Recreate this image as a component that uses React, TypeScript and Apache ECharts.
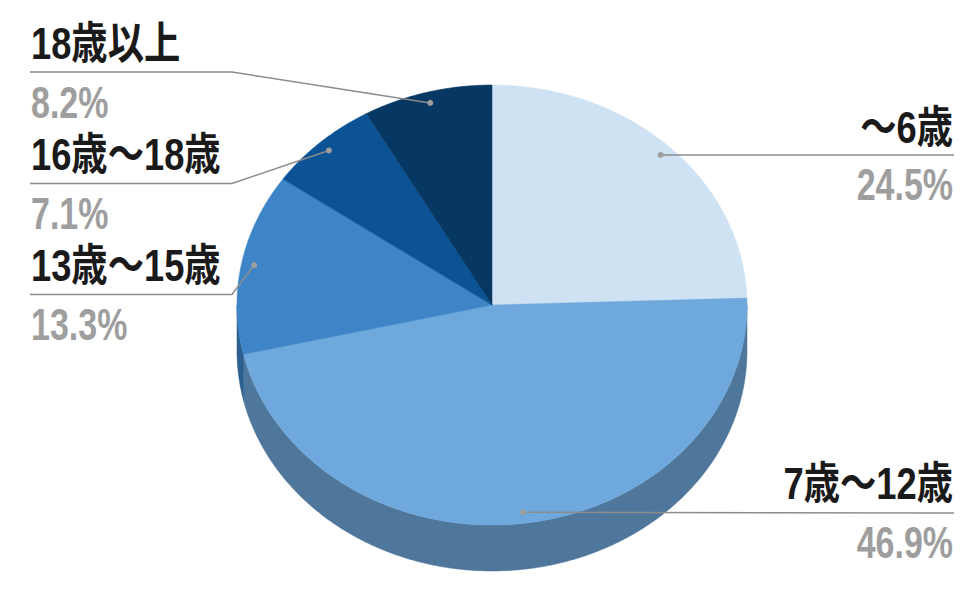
import React, { useEffect, useRef } from "react";
import * as echarts from "echarts";

const categories = ["～6歳", "7歳～12歳", "13歳～15歳", "16歳～18歳", "18歳以上"];
const shares = [24.5, 46.9, 13.3, 7.1, 8.2];
const shareLabels = ["24.5%", "46.9%", "13.3%", "7.1%", "8.2%"];
const topColors = ["#CFE2F3", "#6FA8DC", "#3D85C6", "#0B5394", "#073763"];
const wallColors = ["#93A1AD", "#4F769B", "#2B5F8D", "#083B69", "#052746"];

const CX = 492;
const CY = 305;
const RX = 255;
const RY = 220;
const DEPTH = 46;
const FONT = '"Liberation Sans", "Noto Sans CJK JP", sans-serif';
const TEXT_SCALE_Y = 1.35;
const NAME_SCALE_X = 1.1;
const VALUE_SCALE_X = 1.03;

// side, leader elbow y, and text rows for each label
const labelLayout = [
  { right: true, lineY: 155, nameY: 128, valueY: 184 },
  { right: true, lineY: 513, nameY: 484, valueY: 542 },
  { right: false, lineY: 294.5, nameY: 266, valueY: 324 },
  { right: false, lineY: 183.5, nameY: 155, valueY: 213 },
  { right: false, lineY: 72, nameY: 44, valueY: 102 },
];
const LEFT_X = 30;
const RIGHT_X = 954;
const ELBOW_X = 232;

const total = shares.reduce((a, b) => a + b, 0);
const startFraction = (i: number) => shares.slice(0, i).reduce((a, b) => a + b, 0) / total;
const pt = (deg: number, k = 1, dy = 0): number[] => {
  const r = (deg * Math.PI) / 180;
  return [CX + k * RX * Math.sin(r), CY - k * RY * Math.cos(r) + dy];
};
const arc = (a: number, b: number, dy = 0): number[][] => {
  const out: number[][] = [];
  const n = Math.max(2, Math.ceil(Math.abs(b - a) * 2));
  for (let j = 0; j <= n; j++) out.push(pt(a + ((b - a) * j) / n, 1, dy));
  return out;
};

const range = (i: number) => [startFraction(i) * 360, startFraction(i + 1) * 360];

const renderTop = (params: any) => {
  const i = params.dataIndex;
  const [a, b] = range(i);
  return {
    type: "polygon",
    shape: { points: [[CX, CY], ...arc(a, b)] },
    style: { fill: topColors[i], stroke: topColors[i], lineWidth: 0.5 },
    silent: true,
  };
};

const renderWall = (params: any) => {
  const i = params.dataIndex;
  const [a, b] = range(i);
  const s = Math.max(a, 90);
  const e = Math.min(b, 270);
  if (e <= s) return { type: "group", children: [] };
  return {
    type: "polygon",
    shape: { points: [...arc(s, e), ...arc(s, e, DEPTH).reverse()] },
    style: { fill: wallColors[i], stroke: wallColors[i], lineWidth: 0.5 },
    silent: true,
  };
};

const renderLabel = (params: any) => {
  const i = params.dataIndex;
  const [a, b] = range(i);
  const anchor = pt((a + b) / 2, 0.95);
  const l = labelLayout[i];
  const points = l.right
    ? [anchor, [RIGHT_X, l.lineY]]
    : [anchor, [ELBOW_X, l.lineY], [LEFT_X, l.lineY]];
  const tx = l.right ? RIGHT_X - 1 : LEFT_X + 1;
  const align = l.right ? "right" : "left";
  const text = (t: string, y: number, fill: string, scaleX: number) => ({
    type: "text",
    x: tx,
    y,
    scaleX,
    scaleY: TEXT_SCALE_Y,
    style: {
      text: t,
      x: 0,
      y: 0,
      fill,
      font: `bold 33px ${FONT}`,
      align,
      verticalAlign: "middle",
    },
    silent: true,
  });
  return {
    type: "group",
    children: [
      {
        type: "polyline",
        shape: { points },
        style: { stroke: "#8C8C8C", lineWidth: 1.5, fill: "none" },
        silent: true,
      },
      {
        type: "circle",
        shape: { cx: anchor[0], cy: anchor[1], r: 3 },
        style: { fill: "#9E9E9E" },
        silent: true,
      },
      text(categories[i], l.nameY, "#1A1A1A", NAME_SCALE_X),
      text(shareLabels[i], l.valueY, "#9E9E9E", VALUE_SCALE_X),
    ],
  };
};

export default function App() {
  const ref = useRef<HTMLDivElement>(null);
  useEffect(() => {
    const chart = echarts.init(ref.current!, null, { renderer: "svg" });
    const mk = (renderItem: any, z: number) => ({
      type: "custom",
      coordinateSystem: "none",
      renderItem,
      data: shares,
      z,
      silent: true,
      clip: false,
    });
    chart.setOption({
      animation: false,
      backgroundColor: "#FFFFFF",
      series: [mk(renderWall, 1), mk(renderTop, 2), mk(renderLabel, 3)],
    });
    return () => chart.dispose();
  }, []);
  return (
    <div
      ref={ref}
      style={{ position: "absolute", left: 0, top: 0, width: 963, height: 593 }}
    />
  );
}
